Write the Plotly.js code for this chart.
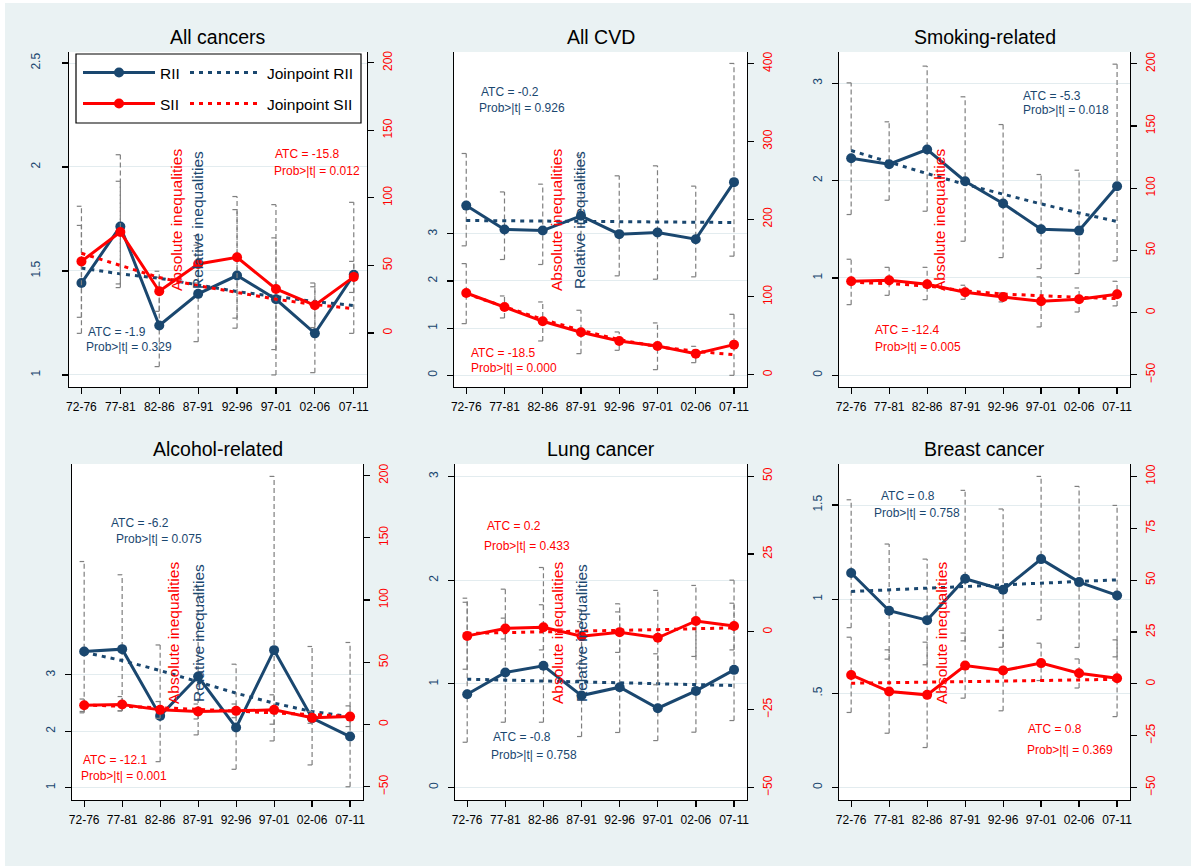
<!DOCTYPE html>
<html><head><meta charset="utf-8">
<script src="https://cdn.plot.ly/plotly-3.0.1.min.js"></script>
<style>html,body{margin:0;padding:0;background:#fff}#chart{width:1191px;height:866px}</style>
</head><body><div id="chart"></div>
<script>
// ---------- DATA ----------
const periods = ['72-76','77-81','82-86','87-91','92-96','97-01','02-06','07-11'];

const allCancersRII   = [1.442, 1.714, 1.238, 1.390, 1.478, 1.364, 1.200, 1.482];
const allCancersSII   = [53.0, 74.8, 30.9, 51.1, 56.0, 32.6, 20.5, 41.5];
const allCancersJpRII = [1.514, 1.486, 1.465, 1.433, 1.401, 1.377, 1.353, 1.334];
const allCancersJpSII = [59, 50, 41, 35, 30, 25, 21, 18];
const allCancersRIIlo = [1.20, 1.42, 1.04, 1.16, 1.225, 1.00, 1.011, 1.20];
const allCancersRIIhi = [1.719, 2.059, 1.47, 1.67, 1.795, 1.819, 1.424, 1.83];
const allCancersSIIlo = [11.6, 36.3, 16.0, 37.0, 11.0, -12.3, 4.0, 30.0];
const allCancersSIIhi = [93.8, 112.3, 45.7, 65.0, 101.0, 70.4, 37.0, 53.0];

const cvdRII   = [3.60, 3.093, 3.07, 3.383, 2.994, 3.029, 2.887, 4.098];
const cvdSII   = [105, 87, 68.6, 54.5, 43.3, 36.9, 27, 38.6];
const cvdJpRII = [3.284, 3.28, 3.27, 3.265, 3.26, 3.255, 3.25, 3.241];
const cvdJpSII = [104, 87, 71, 57, 45, 36, 30, 25.7];
const cvdRIIlo = [2.746, 2.456, 2.35, 2.45, 2.109, 2.038, 2.088, 2.527];
const cvdRIIhi = [4.706, 3.89, 4.055, 4.67, 4.232, 4.444, 4.013, 6.617];
const cvdSIIlo = [65.6, 72.9, 43.3, 27.0, 31.3, 6.4, 15.4, -0.9];
const cvdSIIhi = [142.8, 101.2, 93.5, 82.8, 54.9, 66.5, 36.4, 77.6];

const smokRII   = [2.229, 2.168, 2.318, 1.993, 1.764, 1.500, 1.486, 1.942];
const smokSII   = [25.2, 26.0, 22.8, 16.3, 12.6, 9.1, 10.7, 14.7];
const smokJpRII = [2.308, 2.186, 2.071, 1.961, 1.858, 1.760, 1.667, 1.579];
const smokJpSII = [24.4, 23.3, 21.4, 17.5, 14.9, 13.3, 12.3, 11.2];
const smokRIIlo = [1.651, 1.798, 1.685, 1.377, 1.209, 1.096, 1.045, 1.175];
const smokRIIhi = [3.003, 2.603, 3.175, 2.860, 2.575, 2.062, 2.106, 3.195];
const smokSIIlo = [6.4, 13.9, 10.4, 10.7, 8.6, -11.5, 0.5, 5.4];
const smokSIIhi = [42.9, 36.4, 36.4, 22.0, 15.8, 28.7, 19.8, 25.2];

const alcRII   = [3.414, 3.456, 2.272, 2.970, 2.065, 3.438, 2.231, 1.905];
const alcSII   = [15.5, 16.1, 11.8, 10.5, 11.0, 11.8, 5.4, 6.4];
const alcJpRII = [3.40, 3.254, 3.077, 2.87, 2.675, 2.497, 2.349, 2.26];
const alcJpSII = [15.8, 14.8, 13.5, 12.2, 10.9, 9.6, 8.1, 6.6];
const alcRIIlo = [2.326, 2.36, 1.46, 1.935, 1.325, 1.828, 1.402, 1.015];
const alcRIIhi = [5.01, 4.775, 3.53, 4.56, 3.189, 6.52, 3.503, 3.574];
const alcSIIlo = [10.5, 11.0, 5.0, 4.5, 5.5, 0.3, 1.0, -1.6];
const alcSIIhi = [20.5, 22.5, 18.5, 16.5, 16.5, 23.9, 10.5, 15.0];

const lungRII   = [0.900, 1.109, 1.174, 0.887, 0.968, 0.765, 0.932, 1.135];
const lungSII   = [-1.3, 1.1, 1.5, -1.4, -0.1, -1.9, 3.5, 1.9];
const lungJpRII = [1.045, 1.036, 1.027, 1.018, 1.010, 1.001, 0.992, 0.984];
const lungJpSII = [-0.5, -0.2, 0.1, 0.3, 0.5, 0.7, 1.0, 1.3];
const lungRIIlo = [0.437, 0.63, 0.63, 0.492, 0.531, 0.453, 0.534, 0.646];
const lungRIIhi = [1.826, 1.913, 2.122, 1.60, 1.772, 1.29, 1.627, 2.0];
const lungSIIlo = [-12, -2.3, -5.8, -10, -6.6, -17, -7.9, -5.8];
const lungSIIhi = [9.5, 4.4, 8.7, 7.2, 6.4, 13.3, 14.9, 9.2];

const breastRII   = [1.139, 0.939, 0.889, 1.109, 1.050, 1.213, 1.091, 1.020];
const breastSII   = [4.3, -3.7, -5.3, 8.8, 6.4, 10.0, 5.1, 2.7];
const breastJpRII = [1.041, 1.050, 1.059, 1.068, 1.077, 1.085, 1.094, 1.103];
const breastJpSII = [0.3, 0.5, 0.8, 1.0, 1.3, 1.6, 1.9, 2.2];
const breastRIIlo = [0.849, 0.682, 0.652, 0.779, 0.745, 0.891, 0.744, 0.694];
const breastRIIhi = [1.528, 1.293, 1.213, 1.578, 1.479, 1.652, 1.599, 1.498];
const breastSIIlo = [-13.8, -23.8, -30.7, -6.9, -13.0, 1.6, -2.0, -15.8];
const breastSIIhi = [22.5, 16.4, 20.1, 24.5, 25.8, 19.6, 12.0, 21.2];

// ---------- LAYOUT / STYLE ----------
const W = 1191, H = 866;
const NAVY = '#1a476f', RED = '#ff0000', CIGREY = '#7f7f7f';
const FONT = 'Liberation Sans, Arial, sans-serif';
const px = p => p / W, py = p => 1 - p / H;
const xIdx = periods.map((_, i) => i);

const panels = [
  {title:'All cancers', box:[69,367,52,387],
   d:[allCancersRII,allCancersSII,allCancersJpRII,allCancersJpSII,allCancersRIIlo,allCancersRIIhi,allCancersSIIlo,allCancersSIIhi],
   yl:{range:[0.942,2.553], vals:[1,1.5,2,2.5], text:['1','1.5','2','2.5']},
   yr:{range:[-40,208], vals:[0,50,100,150,200]},
   notes:[['ATC = -15.8',273,154,RED],['Prob>|t| = 0.012',272,171,RED],['ATC = -1.9',86,332,NAVY],['Prob>|t| = 0.329',84,347,NAVY]],
   axt:[[177,220,RED,'Absolute inequalities'],[198,220,NAVY,'Relative inequalities']]},
  {title:'All CVD', box:[454,747,52,387],
   d:[cvdRII,cvdSII,cvdJpRII,cvdJpSII,cvdRIIlo,cvdRIIhi,cvdSIIlo,cvdSIIhi],
   yl:{range:[-0.25,6.86], vals:[0,1,2,3], text:['0','1','2','3']},
   yr:{range:[-15.9,415], vals:[0,100,200,300,400]},
   notes:[['ATC = -0.2',479,92,NAVY],['Prob>|t| = 0.926',477,108,NAVY],['ATC = -18.5',469,353,RED],['Prob>|t| = 0.000',469,368,RED]],
   axt:[[557,220,RED,'Absolute inequalities'],[580,220,NAVY,'Relative inequalities']]},
  {title:'Smoking-related', box:[839,1130,52,387],
   d:[smokRII,smokSII,smokJpRII,smokJpSII,smokRIIlo,smokRIIhi,smokSIIlo,smokSIIhi],
   yl:{range:[-0.12,3.32], vals:[0,1,2,3], text:['0','1','2','3']},
   yr:{range:[-59.8,209.5], vals:[-50,0,50,100,150,200]},
   notes:[['ATC = -5.3',1021,96,NAVY],['Prob>|t| = 0.018',1021,110,NAVY],['ATC = -12.4',873,330,RED],['Prob>|t| = 0.005',873,347,RED]],
   axt:[[940,220,RED,'Absolute inequalities']]},
  {title:'Alcohol-related', box:[72,363,464,800],
   d:[alcRII,alcSII,alcJpRII,alcJpSII,alcRIIlo,alcRIIhi,alcSIIlo,alcSIIhi],
   yl:{range:[0.78,6.74], vals:[1,2,3], text:['1','2','3']},
   yr:{range:[-60.6,209.3], vals:[-50,0,50,100,150,200]},
   notes:[['ATC = -6.2',109,523,NAVY],['Prob>|t| = 0.075',114,539,NAVY],['ATC = -12.1',81,760,RED],['Prob>|t| = 0.001',79,776,RED]],
   axt:[[173,633,RED,'Absolute inequalities'],[198,633,NAVY,'Relative inequalities']]},
  {title:'Lung cancer', box:[455,747,464,800],
   d:[lungRII,lungSII,lungJpRII,lungJpSII,lungRIIlo,lungRIIhi,lungSIIlo,lungSIIhi],
   yl:{range:[-0.12,3.12], vals:[0,1,2,3], text:['0','1','2','3']},
   yr:{range:[-54,53.9], vals:[-50,-25,0,25,50]},
   notes:[['ATC = 0.2',485,526,RED],['Prob>|t| = 0.433',482,546,RED],['ATC = -0.8',491,737,NAVY],['Prob>|t| = 0.758',489,755,NAVY]],
   axt:[[557,633,RED,'Absolute inequalities'],[581,633,NAVY,'Relative inequalities']]},
  {title:'Breast cancer', box:[839,1130,464,800],
   d:[breastRII,breastSII,breastJpRII,breastJpSII,breastRIIlo,breastRIIhi,breastSIIlo,breastSIIhi],
   yl:{range:[-0.066,1.718], vals:[0,0.5,1,1.5], text:['0','.5','1','1.5']},
   yr:{range:[-56,106], vals:[-50,-25,0,25,50,75,100]},
   notes:[['ATC = 0.8',879,496,NAVY],['Prob>|t| = 0.758',872,513,NAVY],['ATC = 0.8',1026,729,RED],['Prob>|t| = 0.369',1025,750,RED]],
   axt:[[941,633,RED,'Absolute inequalities']]}
];

const CAP = 0.12;
function ciPath(lo, hi) {
  const xs = [], ys = [];
  lo.forEach((l, i) => {
    xs.push(i, i, null); ys.push(l, hi[i], null);
    xs.push(i - CAP, i, null); ys.push(l, l, null);
    xs.push(i - CAP, i, null); ys.push(hi[i], hi[i], null);
  });
  return {x: xs, y: ys};
}

const traces = [];
const layout = {
  width: W, height: H,
  margin: {l:0, r:0, t:0, b:0},
  paper_bgcolor: '#ffffff', plot_bgcolor: '#ffffff',
  font: {family: FONT, color: '#000'},
  showlegend: true,
  annotations: [],
  shapes: [
    {type:'rect', xref:'paper', yref:'paper', x0:px(5), x1:1, y0:0, y1:py(3), fillcolor:'#eaf2f3', line:{width:0}, layer:'below'}
  ]
};

const legBase = {bgcolor:'rgba(0,0,0,0)', borderwidth:0, font:{size:15.5, family:FONT, color:'#000'}, itemwidth:72, xanchor:'left', yanchor:'middle', orientation:'v', itemclick:false, itemdoubleclick:false};
layout.legend  = Object.assign({}, legBase, {x:px(78),  y:py(73)});
layout.legend2 = Object.assign({}, legBase, {x:px(185), y:py(73)});
layout.legend3 = Object.assign({}, legBase, {x:px(78),  y:py(104)});
layout.legend4 = Object.assign({}, legBase, {x:px(185), y:py(104)});
layout.shapes.push(null); // legend frame, set below

panels.forEach((p, k) => {
  const n = k + 1;
  const xa = 'x' + (n === 1 ? '' : n), ya = 'y' + (n === 1 ? '' : n), yr = 'y' + (n + 6);
  const [rii, sii, jpr, jps, rlo, rhi, slo, shi] = p.d;
  const [x0, x1, y0, y1] = p.box;
  const first = (k === 0);

  const c1 = ciPath(rlo, rhi);
  traces.push({type:'scatter', mode:'lines', x:c1.x, y:c1.y, xaxis:xa, yaxis:ya, showlegend:false, hoverinfo:'skip',
    line:{color:CIGREY, width:1.2, dash:'5px,3px'}});
  traces.push({type:'scatter', mode:'lines', x:xIdx, y:jpr, xaxis:xa, yaxis:ya, name:'Joinpoint RII',
    showlegend:first, legend:'legend2', line:{color:NAVY, width:3, dash:'4px,5px'}});
  traces.push({type:'scatter', mode:'lines+markers', x:xIdx, y:rii, xaxis:xa, yaxis:ya, name:'RII',
    showlegend:first, legend:'legend', line:{color:NAVY, width:3}, marker:{color:NAVY, size:10}});

  const c2 = ciPath(slo, shi);
  traces.push({type:'scatter', mode:'lines', x:c2.x, y:c2.y, xaxis:xa, yaxis:yr, showlegend:false, hoverinfo:'skip',
    line:{color:CIGREY, width:1.2, dash:'5px,3px'}});
  traces.push({type:'scatter', mode:'lines', x:xIdx, y:jps, xaxis:xa, yaxis:yr, name:'Joinpoint SII',
    showlegend:first, legend:'legend4', line:{color:RED, width:3, dash:'4px,5px'}});
  traces.push({type:'scatter', mode:'lines+markers', x:xIdx, y:sii, xaxis:xa, yaxis:yr, name:'SII',
    showlegend:first, legend:'legend3', line:{color:RED, width:3}, marker:{color:RED, size:10}});

  const xKey = 'xaxis' + (n === 1 ? '' : n), yKey = 'yaxis' + (n === 1 ? '' : n), yrKey = 'yaxis' + (n + 6);
  layout[xKey] = {domain:[px(x0), px(x1)], anchor:ya, range:[-0.32, 7.34], tickmode:'array', tickvals:xIdx, ticktext:periods,
    ticks:'outside', ticklen:6, tickcolor:'#000', tickwidth:1.2, showline:true, linecolor:'#000', linewidth:1.3,
    showgrid:false, zeroline:false, tickfont:{size:12, color:'#000', family:FONT}, ticklabelstandoff:2, fixedrange:true};
  layout[yKey] = {domain:[py(y1), py(y0)], anchor:xa, range:p.yl.range, tickmode:'array', tickvals:p.yl.vals, ticktext:p.yl.text,
    tickangle:-90, ticks:'outside', ticklen:6, tickcolor:'#000', tickwidth:1.2, showline:true, linecolor:'#000', linewidth:1.3,
    showgrid:true, gridcolor:'#e3ecef', gridwidth:1, zeroline:false, tickfont:{size:12, color:NAVY, family:FONT},
    ticklabelstandoff: (k === 0 ? 17 : 5), fixedrange:true};
  layout[yrKey] = {overlaying:ya, side:'right', anchor:xa, range:p.yr.range, tickmode:'array', tickvals:p.yr.vals,
    tickangle:-90, ticks:'outside', ticklen:6, tickcolor:'#000', tickwidth:1.2, showline:true, linecolor:'#000', linewidth:1.3,
    showgrid:false, zeroline:false, tickfont:{size:12, color:RED, family:FONT}, ticklabelstandoff:3, fixedrange:true};

  // white plot area over the tinted background
  layout.shapes.push({type:'rect', xref:xa + ' domain', yref:ya + ' domain', x0:0, x1:1, y0:0, y1:1,
    fillcolor:'#ffffff', line:{width:0}, layer:'below'});

  layout.annotations.push({text:p.title, xref:'paper', yref:'paper', x:px((x0 + x1) / 2), y:py(y0 - 15),
    showarrow:false, xanchor:'center', yanchor:'middle', font:{size:19.5, color:'#000', family:FONT}});
  p.notes.forEach(([t, ax, ay, c]) => layout.annotations.push({text:t, xref:'paper', yref:'paper', x:px(ax), y:py(ay),
    showarrow:false, xanchor:'left', yanchor:'middle', font:{size:12, color:c, family:FONT}}));
  p.axt.forEach(([ax, ay, c, t]) => layout.annotations.push({text:t, xref:'paper', yref:'paper', x:px(ax), y:py(ay),
    showarrow:false, xanchor:'center', yanchor:'middle', textangle:-90, font:{size:15.5, color:c, family:FONT}}));
});

// legend frame
layout.shapes[1] = {type:'rect', xref:'paper', yref:'paper', x0:px(76), x1:px(361), y0:py(123), y1:py(54),
  fillcolor:'#ffffff', line:{color:'#000', width:1.2}, layer:'above'};

Plotly.newPlot('chart', traces, layout, {staticPlot:true, displayModeBar:false});
</script>
</body></html>
